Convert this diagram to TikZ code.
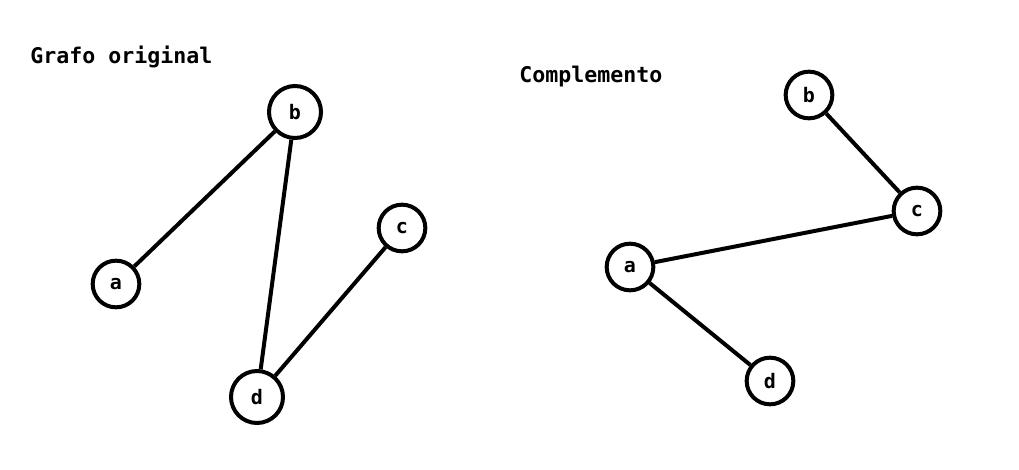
\documentclass[tikz,border=0pt]{standalone}
\usepackage{fontspec}
\setmonofont{DejaVu Sans Mono}
\begin{document}
\begin{tikzpicture}[
        x=0.75pt, y=-0.75pt,
        main/.style = {draw, circle, line width=3pt, minimum size=35pt, inner sep=0pt, font=\ttfamily\bfseries\fontsize{15}{17}\selectfont},
        big/.style = {minimum size=39pt},
        titre/.style = {anchor=west, inner sep=0pt, font=\ttfamily\bfseries\fontsize{16.2}{19}\selectfont},
        edge/.style = {line width=3pt}
    ]
        \useasboundingbox (0,0) rectangle (1019,470);

        % Graphe original
        \node[titre] (T1) at (30,57) {Grafo original};
        \node[main, big] (b1) at (295,112) {b};
        \node[main] (a1) at (116,284) {a};
        \node[main] (c1) at (402,228) {c};
        \node[main, big] (d1) at (257,397) {d};

        \draw[edge] (a1) -- (b1);
        \draw[edge] (b1) -- (d1);
        \draw[edge] (c1) -- (d1);

        % Complément
        \node[titre] (T2) at (519,77) {Complemento};
        \node[main] (b2) at (809,95) {b};
        \node[main] (c2) at (917,211) {c};
        \node[main] (a2) at (630,267) {a};
        \node[main] (d2) at (770,381) {d};

        \draw[edge] (b2) -- (c2);
        \draw[edge] (a2) -- (c2);
        \draw[edge] (a2) -- (d2);

    \end{tikzpicture}
\end{document}
